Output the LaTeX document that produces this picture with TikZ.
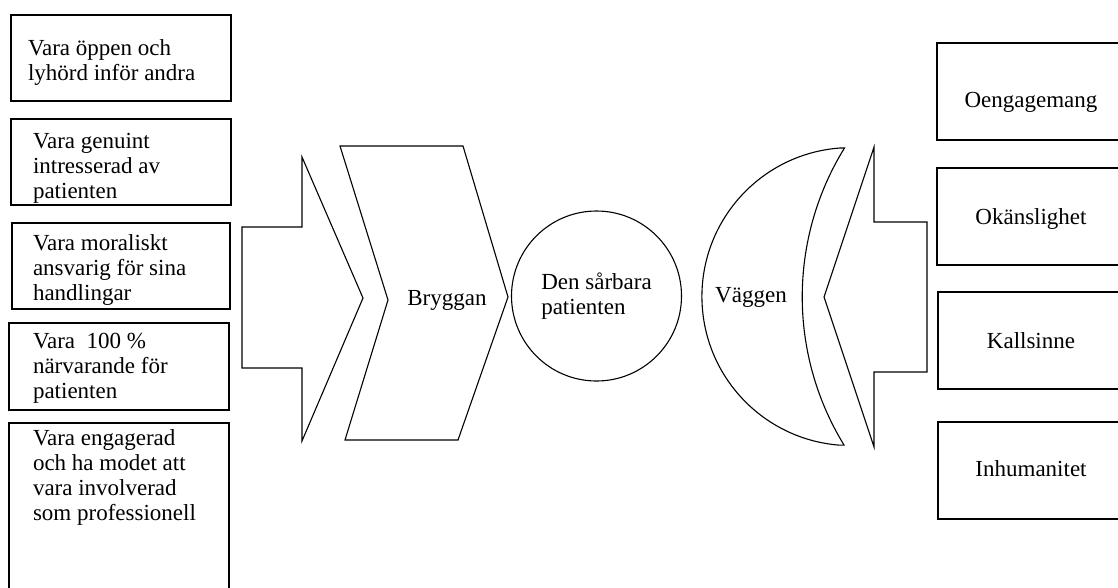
\documentclass[tikz,border=0pt]{standalone}
\usepackage{fontspec}
\setmainfont{Liberation Serif}
\begin{document}
\begin{tikzpicture}[x=1pt,y=-1pt,line width=1.1pt,
  every node/.style={font=\fontsize{23}{25}\selectfont, inner sep=0pt, outer sep=0pt},
  box/.style={draw, rectangle},
  txt/.style={anchor=north west, align=left},
  lbl/.style={anchor=base}]
\useasboundingbox (0,0) rectangle (1118,587);
% left boxes
\node[box, minimum width=220, minimum height=86] (L1) at (121,58) {};
\node[box, minimum width=220, minimum height=86] (L2) at (121,162) {};
\node[box, minimum width=218, minimum height=86] (L3) at (121,266) {};
\node[box, minimum width=220, minimum height=87] (L4) at (119,366.5) {};
\node[box, minimum width=220, minimum height=197] (L5) at (119,521.5) {};
\node[txt] (t1) at (28,40) {Vara öppen och\\lyhörd inför andra};
\node[txt] (t2) at (33,133) {Vara genuint\\intresserad av\\patienten};
\node[txt] (t3) at (33,235) {Vara moraliskt\\ansvarig för sina\\handlingar};
\node[txt] (t4) at (33,333) {Vara\ \ 100 \%\\närvarande för\\patienten};
\node[txt] (t5) at (33,430) {Vara engagerad\\och ha modet att\\vara involverad\\som professionell};
% right boxes
\node[box, minimum width=188, minimum height=97] (R1) at (1031,91.5) {};
\node[box, minimum width=188, minimum height=97] (R2) at (1031,216.5) {};
\node[box, minimum width=187, minimum height=97] (R3) at (1031.5,340.5) {};
\node[box, minimum width=187, minimum height=97] (R4) at (1031.5,470.5) {};
\node[lbl] (r1) at (1031,107) {Oengagemang};
\node[lbl] (r2) at (1031,224) {Okänslighet};
\node[lbl] (r3) at (1031,348) {Kallsinne};
\node[lbl] (r4) at (1031,476) {Inhumanitet};
% left block arrow
\draw[line join=miter] (242,227) -- (302,227) -- (302,157) -- (363,298) -- (302,441) -- (302,368) -- (242,368) -- cycle;
% chevron (Bryggan)
\draw[line join=miter] (340,146) -- (463,146) -- (508,297) -- (458,440) -- (345,440) -- (388,300) -- cycle;
\node[lbl] (bryggan) at (447,305) {Bryggan};
% circle
\node[draw, circle, minimum size=170, align=left] (pat) at (596.5,296) {Den sårbara\\patienten};
% wall (Väggen)
\draw (840,148) arc[start angle=265.8, end angle=94.2, radius=149] -- (844,445)
  arc[start angle=148.5, end angle=211.7, radius=283.5] -- cycle;
\node[lbl] (vaggen) at (751,302) {Väggen};
% right block arrow
\draw[line join=miter] (927,222) -- (874,222) -- (874,147) -- (824,297) -- (874,447) -- (874,372) -- (927,372) -- cycle;
\end{tikzpicture}
\end{document}
